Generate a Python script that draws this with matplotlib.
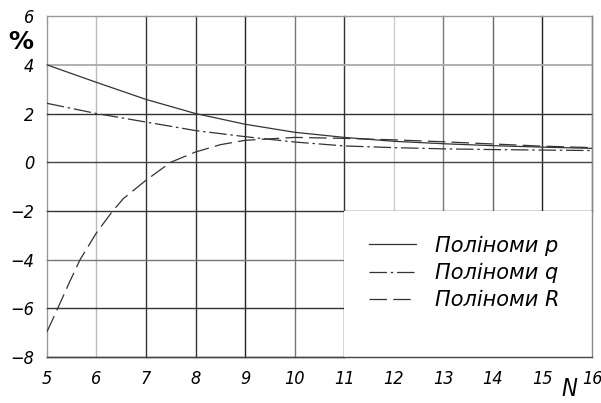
import numpy as np
import matplotlib as mpl
mpl.use('Agg')
import matplotlib.pyplot as plt
from matplotlib.patches import Rectangle

N = [5, 6, 7, 8, 9, 10, 11, 12, 13, 14, 15, 16]
poly_p = [4.0, 3.28, 2.58, 2.0, 1.56, 1.23, 1.02, 0.86, 0.76, 0.68, 0.62, 0.57]
poly_q = [2.42, 2.0, 1.65, 1.3, 1.05, 0.83, 0.67, 0.6, 0.55, 0.52, 0.5, 0.48]
N_R = [5, 5.22, 5.45, 5.67, 6, 6.31, 6.54, 7, 7.5, 8, 8.5, 9, 10, 11, 12, 13, 14, 15, 16]
poly_R = [-6.97, -6.0, -4.95, -4.0, -2.9, -2.05, -1.5, -0.74, 0.0, 0.42, 0.72, 0.9,
          1.02, 0.98, 0.92, 0.84, 0.75, 0.66, 0.6]

xticks = list(range(5, 17))
yticks = [-8, -6, -4, -2, 0, 2, 4, 6]
# grid shades
xgrid_col = {5: '#999999', 6: '#bbbbbb', 7: '#333333', 8: '#333333', 9: '#222222',
             10: '#777777', 11: '#333333', 12: '#cccccc', 13: '#777777',
             14: '#666666', 15: '#222222', 16: '#888888'}
ygrid_col = {6: '#999999', 4: '#aaaaaa', 2: '#333333', 0: '#444444',
             -2: '#333333', -4: '#777777', -6: '#333333', -8: '#444444'}

font = {'family': 'DejaVu Sans', 'style': 'italic', 'stretch': 'condensed'}

fig = plt.figure(figsize=(6.01, 4.03), dpi=100)
ax = fig.add_axes([0.078, 0.114, 0.907, 0.846])

# white block behind the legend
ax.add_patch(Rectangle((11, -8), 5, 6, facecolor='white', edgecolor='none', zorder=2))

for x in xticks:
    if x > 11:
        ax.axvline(x, ymin=6/14, color=xgrid_col[x], lw=1.0, zorder=1, clip_on=False)
    else:
        ax.axvline(x, color=xgrid_col[x], lw=1.0, zorder=1, clip_on=False)
ax.axvline(16, color=xgrid_col[16], lw=1.0, zorder=2.5, clip_on=False)
for y in yticks:
    if y < -2:
        ax.axhline(y, xmax=6/11, color=ygrid_col[y], lw=1.0, zorder=1, clip_on=False)
    else:
        ax.axhline(y, color=ygrid_col[y], lw=1.3 if y == 4 else 1.0, zorder=1,
                   clip_on=False)
ax.axhline(-8, color=ygrid_col[-8], lw=1.0, zorder=2.5, clip_on=False)

ax.plot(N, poly_p, color='#333333', lw=0.9, ls='-', label='Поліноми p', zorder=3)
ax.plot(N, poly_q, color='#333333', lw=0.9, ls=(0, (14, 3, 2, 3)),
        label='Поліноми q', zorder=3)
ax.plot(N_R, poly_R, color='#333333', lw=0.9, ls=(0, (14, 5)),
        label='Поліноми R', zorder=3)

leg = ax.legend(loc='center', bbox_to_anchor=(13.42, -4.55), bbox_transform=ax.transData,
                frameon=False, handlelength=2.3, handletextpad=0.9, labelspacing=0.35,
                prop={'family': 'DejaVu Sans', 'style': 'italic', 'size': 15})
leg.set_zorder(4)

ax.set_xlim(5, 16)
ax.set_ylim(-8, 6)
ax.set_xticks(xticks)
ax.set_yticks(yticks)
ax.set_xticklabels([str(v) for v in xticks], fontdict=font, fontsize=13)
ax.set_yticklabels([str(v).replace('-', '\u2212') for v in yticks], fontdict=font,
                   fontsize=13)
ax.tick_params(length=0, pad=9)
for s in ax.spines.values():
    s.set_visible(False)

fig.text(0.035, 0.895, '%', fontsize=18, fontweight='bold', ha='center', va='center')
fig.text(0.948, 0.035, 'N', fontsize=17, ha='center', va='center', **font)

fig.savefig('out.png', dpi=100)
